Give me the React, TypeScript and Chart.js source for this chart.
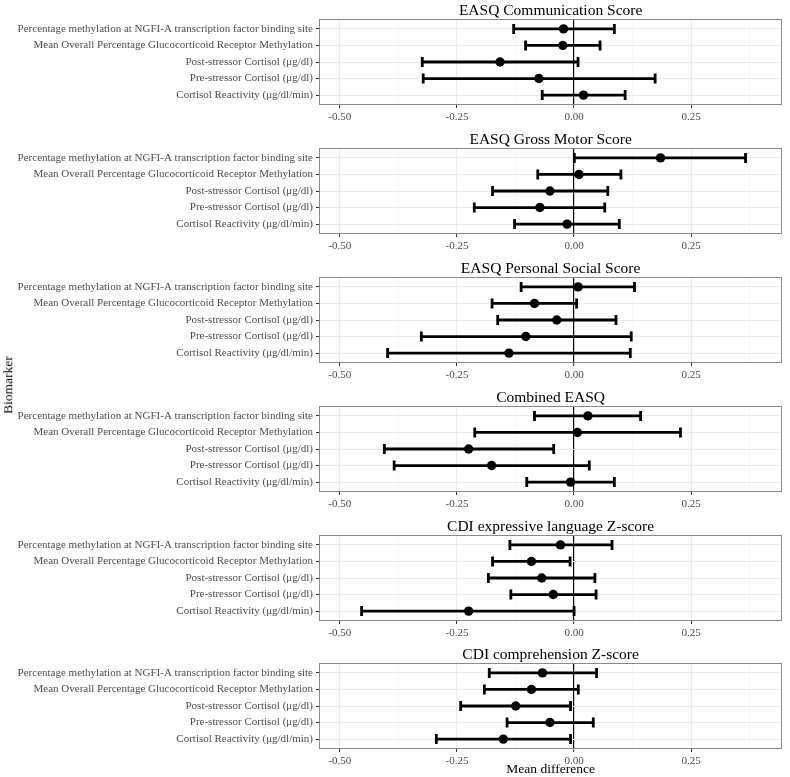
import React, { useEffect, useRef } from "react";
import { Chart, registerables } from "chart.js";

Chart.register(...registerables);

// ---------- data ----------
const biomarkers = [
  "Percentage methylation at NGFI-A transcription factor binding site",
  "Mean Overall Percentage Glucocorticoid Receptor Methylation",
  "Post-stressor Cortisol (μg/dl)",
  "Pre-stressor Cortisol (μg/dl)",
  "Cortisol Reactivity (μg/dl/min)",
];

const outcomes = [
  "EASQ Communication Score",
  "EASQ Gross Motor Score",
  "EASQ Personal Social Score",
  "Combined EASQ",
  "CDI expressive language Z-score",
  "CDI comprehension Z-score",
];

const communicationMean = [-0.0225, -0.024, -0.158, -0.075, 0.02];
const communicationLow = [-0.129, -0.1035, -0.324, -0.322, -0.068];
const communicationHigh = [0.086, 0.0555, 0.0085, 0.173, 0.109];

const grossMotorMean = [0.1845, 0.0105, -0.0515, -0.073, -0.015];
const grossMotorLow = [0.0005, -0.0775, -0.174, -0.213, -0.127];
const grossMotorHigh = [0.366, 0.1, 0.072, 0.0655, 0.0965];

const personalSocialMean = [0.0085, -0.0845, -0.037, -0.103, -0.139];
const personalSocialLow = [-0.113, -0.175, -0.163, -0.326, -0.398];
const personalSocialHigh = [0.129, 0.0055, 0.0895, 0.122, 0.12];

const combinedMean = [0.0295, 0.007, -0.225, -0.176, -0.0075];
const combinedLow = [-0.0845, -0.212, -0.405, -0.384, -0.101];
const combinedHigh = [0.142, 0.227, -0.0435, 0.0325, 0.086];

const cdiExpressiveMean = [-0.029, -0.091, -0.069, -0.0445, -0.225];
const cdiExpressiveLow = [-0.137, -0.174, -0.183, -0.135, -0.4535];
const cdiExpressiveHigh = [0.081, -0.0085, 0.0445, 0.047, 0.0];

const cdiComprehensionMean = [-0.0675, -0.091, -0.1245, -0.0515, -0.151];
const cdiComprehensionLow = [-0.181, -0.1915, -0.242, -0.143, -0.294];
const cdiComprehensionHigh = [0.048, 0.009, -0.0075, 0.041, -0.0075];

const meanSeries = [communicationMean, grossMotorMean, personalSocialMean, combinedMean, cdiExpressiveMean, cdiComprehensionMean];
const lowSeries = [communicationLow, grossMotorLow, personalSocialLow, combinedLow, cdiExpressiveLow, cdiComprehensionLow];
const highSeries = [communicationHigh, grossMotorHigh, personalSocialHigh, combinedHigh, cdiExpressiveHigh, cdiComprehensionHigh];

const xMajorTicks = [-0.5, -0.25, 0, 0.25];
const xMinorTicks = [-0.375, -0.125, 0.125, 0.375];
const X_MIN = -0.5444;
const X_MAX = 0.4442;

const xAxisTitle = "Mean difference";
const yAxisTitle = "Biomarker";

// ---------- layout ----------
const W = 790;
const H = 777;
const FONT = "'Liberation Serif', 'Times New Roman', serif";
const PLOT_LEFT = 319;
const PLOT_RIGHT = 787;
const PLOT_TOPS = [19, 148, 277, 406, 535, 663];
const PLOT_H = 86;
const TITLE_H = 20;
const X_AXIS_H = 24;

const borderPlugin = {
  id: "panelBorder",
  afterDatasetsDraw(chart: any) {
    const { ctx, chartArea } = chart;
    ctx.save();
    ctx.strokeStyle = "#8a8a8a";
    ctx.lineWidth = 1;
    ctx.strokeRect(
      Math.round(chartArea.left) + 0.5,
      Math.round(chartArea.top) + 0.5,
      Math.round(chartArea.right - chartArea.left) - 1,
      Math.round(chartArea.bottom - chartArea.top) - 1
    );
    ctx.restore();
  },
};

function Panel({ index }: { index: number }) {
  const ref = useRef<HTMLCanvasElement | null>(null);
  const isLast = index === outcomes.length - 1;
  const top = PLOT_TOPS[index] - TITLE_H;
  const height = isLast ? H - top : TITLE_H + PLOT_H + X_AXIS_H;
  const xAxisH = height - TITLE_H - PLOT_H;

  useEffect(() => {
    if (!ref.current) return;
    const means = meanSeries[index];
    const lows = lowSeries[index];
    const highs = highSeries[index];

    const datasets: any[] = biomarkers.map((_, i) => ({
      type: "scatter",
      showLine: true,
      data: [
        { x: lows[i], y: i + 1 },
        { x: highs[i], y: i + 1 },
      ],
      borderColor: "#000",
      borderWidth: 2.8,
      pointStyle: "line",
      rotation: 90,
      pointRadius: 5,
      pointBorderWidth: 2.8,
      pointBorderColor: "#000",
      pointBackgroundColor: "#000",
      order: 2,
    }));
    datasets.push({
      type: "scatter",
      data: biomarkers.map((_, i) => ({ x: means[i], y: i + 1 })),
      pointRadius: 4.7,
      pointBorderWidth: 0,
      pointBackgroundColor: "#000",
      backgroundColor: "#000",
      order: 1,
    });

    const isMajor = (v: number) => xMajorTicks.some((t) => Math.abs(t - v) < 1e-9);

    const chart = new Chart(ref.current, {
      type: "scatter",
      data: { datasets },
      options: {
        responsive: false,
        animation: false,
        events: [],
        layout: { padding: { left: 0, right: W - PLOT_RIGHT, top: 0, bottom: 0 } },
        plugins: {
          legend: { display: false },
          tooltip: { enabled: false },
          title: { display: false },
        },
        scales: {
          x: {
            type: "linear",
            position: "bottom",
            min: X_MIN,
            max: X_MAX,
            afterBuildTicks: (s: any) => {
              s.ticks = [...xMajorTicks, ...xMinorTicks]
                .sort((a, b) => a - b)
                .map((v) => ({ value: v }));
            },
            afterFit: (s: any) => {
              s.height = xAxisH;
            },
            ticks: {
              autoSkip: false,
              maxRotation: 0,
              padding: 2.5,
              color: "#4D4D4D",
              font: { family: FONT, size: 11 },
              callback: (v: any) => (isMajor(Number(v)) ? Number(v).toFixed(2) : ""),
            },
            grid: {
              drawTicks: true,
              tickLength: 3,
              color: (c: any) =>
                c.tick && Math.abs(c.tick.value) < 1e-9 ? "#000" : isMajor(c.tick?.value) ? "#EBEBEB" : "#F4F4F4",
              lineWidth: (c: any) =>
                c.tick && Math.abs(c.tick.value) < 1e-9 ? 1.2 : isMajor(c.tick?.value) ? 1 : 0.6,
              tickColor: (c: any) => (isMajor(c.tick?.value) ? "#333" : "rgba(0,0,0,0)"),
              tickWidth: 1,
            },
            border: { display: false },
            title: isLast
              ? {
                  display: true,
                  text: xAxisTitle,
                  color: "#000",
                  font: { family: FONT, size: 13.5, lineHeight: 1 },
                  padding: { top: 0, bottom: 0.5 },
                }
              : { display: false },
          },
          top: {
            type: "linear",
            position: "top",
            display: true,
            ticks: { display: false },
            grid: { display: false, drawTicks: false },
            border: { display: false },
            afterFit: (s: any) => {
              s.height = TITLE_H;
            },
            title: {
              display: true,
              text: outcomes[index],
              color: "#000",
              font: { family: FONT, size: 15.5, lineHeight: 1 },
              padding: { top: 4.5, bottom: 0 },
            },
          },
          y: {
            type: "linear",
            position: "left",
            min: 0.4,
            max: 5.6,
            reverse: true,
            afterBuildTicks: (s: any) => {
              s.ticks = biomarkers.map((_, i) => ({ value: i + 1 }));
            },
            afterFit: (s: any) => {
              s.width = PLOT_LEFT;
            },
            ticks: {
              autoSkip: false,
              padding: 3,
              color: "#4D4D4D",
              font: { family: FONT, size: 11 },
              callback: (v: any) => biomarkers[Math.round(Number(v)) - 1] ?? "",
            },
            grid: {
              drawTicks: true,
              tickLength: 3,
              color: "#EBEBEB",
              lineWidth: 1,
              tickColor: "#333",
              tickWidth: 1,
            },
            border: { display: false },
          },
        },
      } as any,
      plugins: [borderPlugin],
    });
    return () => chart.destroy();
  }, [index]);

  return (
    <canvas
      ref={ref}
      width={W}
      height={height}
      style={{ position: "absolute", left: 0, top, width: W, height, display: "block" }}
    />
  );
}

export default function App() {
  return (
    <div
      style={{
        position: "absolute",
        left: 0,
        top: 0,
        width: W,
        height: H,
        background: "#fff",
        overflow: "hidden",
      }}
    >
      {outcomes.map((_, i) => (
        <Panel key={i} index={i} />
      ))}
      <div
        style={{
          position: "absolute",
          left: 8,
          top: 385,
          transform: "translate(-50%, -50%) rotate(-90deg)",
          fontFamily: FONT,
          fontSize: 13.5,
          color: "#000",
          whiteSpace: "nowrap",
          lineHeight: 1,
        }}
      >
        {yAxisTitle}
      </div>
    </div>
  );
}
